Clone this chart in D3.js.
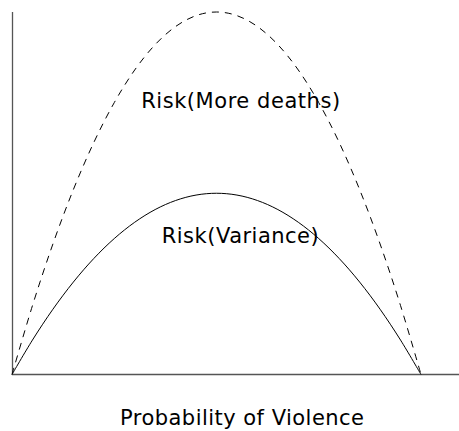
<!DOCTYPE html>
<html>
<head>
<meta charset="utf-8">
<script src="https://cdn.jsdelivr.net/npm/d3@7"></script>
<style>
  html, body { margin: 0; padding: 0; background: #fff; }
  svg { display: block; }
  text { font-family: "DejaVu Sans", sans-serif; fill: #000; }
</style>
</head>
<body>
<svg id="chart" width="459" height="431"></svg>
<script>
// Probability of violence (x) sampled along the curves
const probability = [0, 0.05, 0.1, 0.15, 0.2, 0.25, 0.3, 0.35, 0.4, 0.45, 0.5,
                     0.55, 0.6, 0.65, 0.7, 0.75, 0.8, 0.85, 0.9, 0.95, 1];
// Risk(Variance) — solid curve
const riskVariance = [0, 0.0475, 0.09, 0.1275, 0.16, 0.1875, 0.21, 0.2275, 0.24, 0.2475, 0.25,
                      0.2475, 0.24, 0.2275, 0.21, 0.1875, 0.16, 0.1275, 0.09, 0.0475, 0];
// Risk(More deaths) — dashed curve
const riskMoreDeaths = [0, 0.095, 0.18, 0.255, 0.32, 0.375, 0.42, 0.455, 0.48, 0.495, 0.5,
                        0.495, 0.48, 0.455, 0.42, 0.375, 0.32, 0.255, 0.18, 0.095, 0];
const labels = [
  { text: "Risk(More deaths)", p: 0.559, v: 0.3676, w: 199 },
  { text: "Risk(Variance)", p: 0.558, v: 0.181, w: 157 }
];
const xAxisTitle = "Probability of Violence";

const svg = d3.select("#chart");
const x = d3.scaleLinear().domain([0, 1]).range([12, 421]);
const y = d3.scaleLinear().domain([0, 0.5]).range([374.5, 12]);

// axes (no ticks)
svg.append("line").attr("x1", 12.5).attr("x2", 12.5).attr("y1", 12).attr("y2", 375)
  .attr("stroke", "#555").attr("stroke-width", 1.3);
svg.append("line").attr("x1", 12).attr("x2", 459).attr("y1", 374.5).attr("y2", 374.5)
  .attr("stroke", "#555").attr("stroke-width", 1.3);

const line = d3.line().x((d, i) => x(probability[i])).y(d => y(d)).curve(d3.curveCardinal.tension(0));

svg.append("path").datum(riskMoreDeaths).attr("d", line)
  .attr("fill", "none").attr("stroke", "#000").attr("stroke-width", 1)
  .attr("stroke-dasharray", "7,6");
svg.append("path").datum(riskVariance).attr("d", line)
  .attr("fill", "none").attr("stroke", "#000").attr("stroke-width", 1);

svg.selectAll("text.lab").data(labels).join("text").attr("class", "lab")
  .attr("x", d => x(d.p)).attr("y", d => y(d.v))
  .attr("text-anchor", "middle").attr("font-size", 21)
  .attr("textLength", d => d.w).attr("lengthAdjust", "spacing")
  .text(d => d.text);

svg.append("text").attr("x", 242).attr("y", 425)
  .attr("text-anchor", "middle").attr("font-size", 21)
  .attr("textLength", 244).attr("lengthAdjust", "spacing")
  .text(xAxisTitle);
</script>
</body>
</html>
